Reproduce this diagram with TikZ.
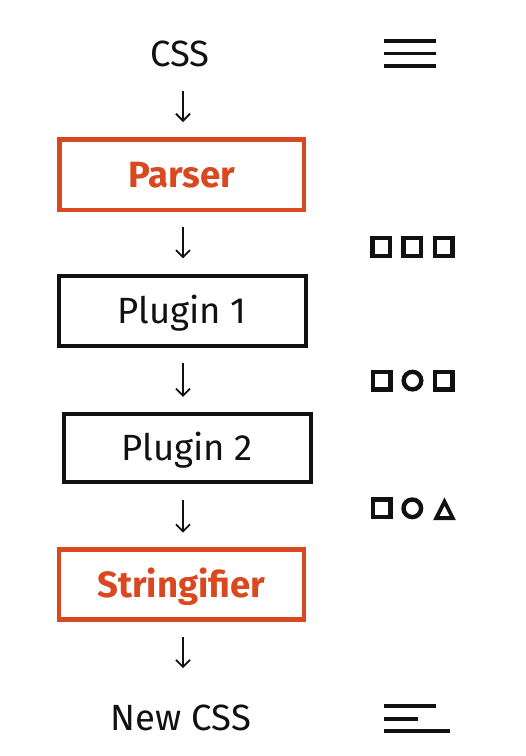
\documentclass[tikz,border=0pt]{standalone}
\usepackage{fontspec}
\setmainfont{Fira Sans}
\usetikzlibrary{arrows.meta}
\definecolor{pcorange}{RGB}{217,72,30}
\definecolor{ink}{RGB}{17,17,17}
\begin{document}
\begin{tikzpicture}[x=1pt,y=-1pt,
  txt/.style={inner sep=0pt, text height=25.1pt, text depth=0pt, text=ink, font=\fontsize{36.5}{40}\selectfont},
  box/.style={draw=ink, line width=4pt, inner sep=0pt, text height=25.1pt, text depth=0pt, text=ink, font=\fontsize{36.5}{40}\selectfont},
  hot/.style={box, draw=pcorange, line width=4.5pt, text=pcorange, font=\fontsize{36.5}{40}\selectfont\bfseries},
  arr/.style={draw=ink, line width=1.8pt, -{Straight Barb[length=7pt,width=14pt]}},
  icon/.style={draw=ink, line width=4.4pt},
  bar/.style={draw=ink, line width=3.6pt}]
\useasboundingbox[fill=white] (0,0) rectangle (526,756);
\coordinate (col) at (183,0);
% main column
\node[txt] (css) at (180,54) {CSS};
\node[hot, minimum width=244.5pt, minimum height=70.5pt] (parser) at (181.5,174.5) {Parser};
\node[box, minimum width=247pt, minimum height=70pt] (plugin1) at (182.3,311) {Plugin 1};
\node[box, minimum width=247pt, minimum height=68pt] (plugin2) at (187.3,447.8) {Plugin 2};
\node[hot, minimum width=245pt, minimum height=70pt] (stringifier) at (181.3,584.5) {Stringifier};
\node[txt] (newcss) at (181,717.5) {New CSS};
% connectors
\draw[arr, shorten <=24pt, shorten >=15pt] (css.south -| col) -- (parser.north -| col);
\draw[arr, shorten <=14.7pt, shorten >=15.7pt] (parser.south -| col) -- (plugin1.north -| col);
\draw[arr, shorten <=15.3pt, shorten >=15pt] (plugin1.south -| col) -- (plugin2.north -| col);
\draw[arr, shorten <=16pt, shorten >=14.6pt] (plugin2.south -| col) -- (stringifier.north -| col);
\draw[arr, shorten <=15pt, shorten >=36.7pt] (stringifier.south -| col) -- (newcss.north -| col);
% right-hand icons
\draw[bar] (384,40.7) -- (436,40.7);
\draw[bar] (384,53.3) -- (436,53.3);
\draw[bar] (384,66) -- (436,66);
\draw[icon] (372.5,238.2) rectangle (390.1,255.8);
\draw[icon] (403.5,238.2) rectangle (421.1,255.8);
\draw[icon] (435,238.2) rectangle (452.6,255.8);
\draw[icon] (372.9,371.8) rectangle (390.5,389.4);
\draw[icon] (412.5,380.6) circle (8.8);
\draw[icon] (434.7,371.8) rectangle (452.3,389.4);
\draw[icon] (372.7,499.5) rectangle (390.3,517.1);
\draw[icon] (412.3,508.3) circle (8.8);
\draw[icon, line width=3.8pt, line join=miter] (436.2,518.1) -- (452.8,518.1) -- (444.5,501.5) -- cycle;
\draw[bar] (384,706) -- (435.7,706);
\draw[bar] (384,719) -- (417.7,719);
\draw[bar] (384,731) -- (450,731);
\end{tikzpicture}
\end{document}
